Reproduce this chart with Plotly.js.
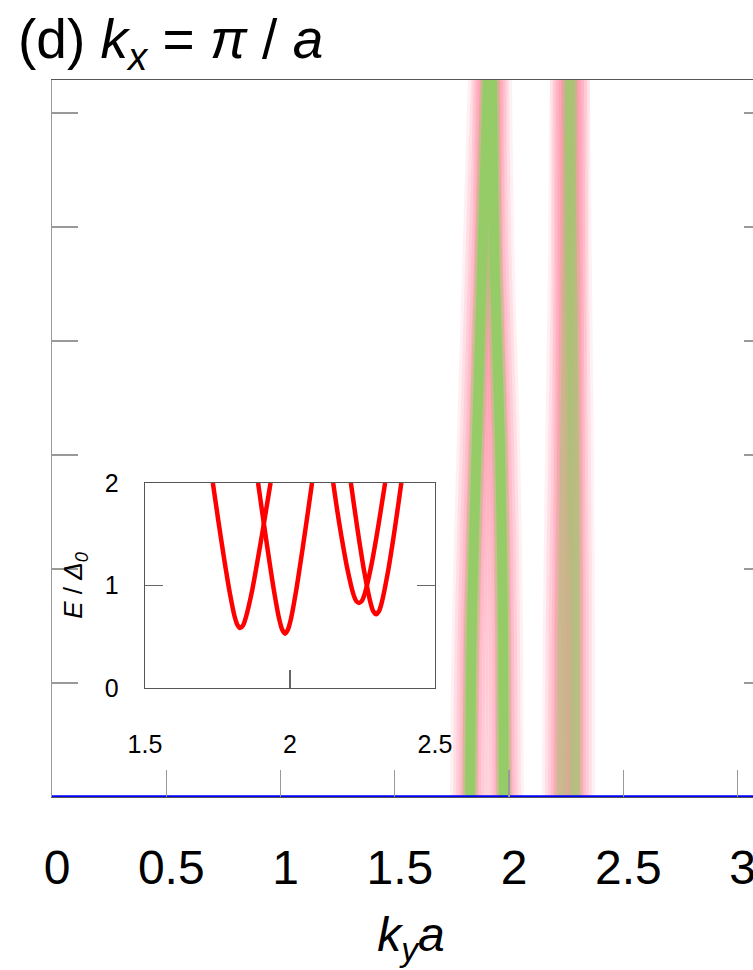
<!DOCTYPE html>
<html>
<head>
<meta charset="utf-8">
<script src="https://cdn.plot.ly/plotly-3.0.1.min.js"></script>
<style>
html,body{margin:0;padding:0;overflow:hidden;background:#fff;}
#chart{width:790px;height:970px;}
</style>
</head>
<body>
<div id="chart"></div>
<script>
// ---- main panel: broadened spectral lines (ky*a vs energy, arb. units) ----
var lineA_x = [1.829, 1.837, 1.859, 1.881, 1.907];
var lineA_y = [0, 1.51, 3.13, 4.58, 6.29];
var lineB_x = [1.977, 1.973, 1.960, 1.938, 1.925];
var lineB_y = [0, 1.51, 3.13, 4.58, 6.29];
var lineC1_x = [2.231, 2.235, 2.246, 2.257, 2.266];
var lineC1_y = [0, 1.51, 3.13, 4.58, 6.29];
var lineC2_x = [2.288, 2.288, 2.283, 2.275, 2.266];
var lineC2_y = [0, 1.51, 3.13, 4.58, 6.29];
var baseX = [0, 3.1416];
var baseY = [0, 0];

// ---- inset: E / Delta0 vs ky*a ----
var c1_k = [1.734, 1.753, 1.773, 1.793, 1.808, 1.818, 1.828, 1.838, 1.848, 1.868, 1.888, 1.908, 1.933];
var c1_E = [2.0, 1.63, 1.26, 0.92, 0.71, 0.62, 0.585, 0.61, 0.69, 0.93, 1.24, 1.57, 2.0];
var c2_k = [1.890, 1.905, 1.923, 1.943, 1.963, 1.973, 1.983, 1.993, 2.003, 2.023, 2.043, 2.061, 2.076];
var c2_E = [2.0, 1.70, 1.35, 0.98, 0.67, 0.57, 0.53, 0.57, 0.67, 0.98, 1.35, 1.70, 2.0];
var c3_k = [2.149, 2.163, 2.178, 2.198, 2.218, 2.228, 2.238, 2.248, 2.258, 2.278, 2.298, 2.313, 2.328];
var c3_E = [2.0, 1.73, 1.47, 1.16, 0.92, 0.85, 0.83, 0.85, 0.92, 1.16, 1.47, 1.73, 2.0];
var c4_k = [2.210, 2.224, 2.237, 2.257, 2.277, 2.287, 2.297, 2.307, 2.317, 2.337, 2.357, 2.370, 2.384];
var c4_E = [2.0, 1.72, 1.47, 1.12, 0.84, 0.75, 0.72, 0.75, 0.84, 1.12, 1.47, 1.72, 2.0];

var xTicks = [0, 0.5, 1, 1.5, 2, 2.5, 3];
var xTickText = ['0', '0.5', '1', '1.5', '2', '2.5', '3'];
var yTicks = [1, 2, 3, 4, 5, 6];
var insetXTicks = [1.5, 2, 2.5];
var insetXText = ['1.5', '2', '2.5'];
var insetYTicks = [0, 1, 2];

var FONT = 'Liberation Sans, Arial, Helvetica, sans-serif';
var traces = [];
var mainLines = [[lineA_x, lineA_y], [lineB_x, lineB_y], [lineC1_x, lineC1_y], [lineC2_x, lineC2_y]];
var coreAlpha = [1, 1, 0.38, 0.55];

// glow layers first
var glowWidths = [40, 34, 28, 22, 17];
var glowAlpha = [0.14, 0.18, 0.24, 0.3, 0.35];
mainLines.forEach(function (L) {
  glowWidths.forEach(function (w, j) {
    traces.push({x: L[0], y: L[1], mode: 'lines', type: 'scatter', xaxis: 'x', yaxis: 'y',
      line: {color: 'rgba(255,150,170,' + glowAlpha[j] + ')', width: w, shape: 'spline'}, hoverinfo: 'skip', showlegend: false});
  });
});
// cores
mainLines.forEach(function (L, i) {
  var a = coreAlpha[i];
  traces.push({x: L[0], y: L[1], mode: 'lines', type: 'scatter', xaxis: 'x', yaxis: 'y',
    line: {color: 'rgba(150,204,104,' + (0.45 * a) + ')', width: 15, shape: 'spline'}, hoverinfo: 'skip', showlegend: false});
  traces.push({x: L[0], y: L[1], mode: 'lines', type: 'scatter', xaxis: 'x', yaxis: 'y',
    line: {color: 'rgba(150,204,104,' + a + ')', width: 10, shape: 'spline'}, hoverinfo: 'skip', showlegend: false});
});
// blue baseline
traces.push({x: baseX, y: baseY, mode: 'lines', type: 'scatter', xaxis: 'x', yaxis: 'y', cliponaxis: false,
  line: {color: '#0000ff', width: 3.5}, showlegend: false});

// inset curves
[[c1_k, c1_E], [c2_k, c2_E], [c3_k, c3_E], [c4_k, c4_E]].forEach(function (c) {
  traces.push({x: c[0], y: c[1], mode: 'lines', type: 'scatter', xaxis: 'x2', yaxis: 'y2',
    line: {color: '#ff0000', width: 4.5, shape: 'spline', smoothing: 0.8}, showlegend: false});
});

var layout = {
  width: 790, height: 970,
  margin: {l: 52, r: 20, t: 80, b: 173},
  paper_bgcolor: '#ffffff', plot_bgcolor: '#ffffff',
  showlegend: false,
  font: {family: FONT, color: '#000'},
  annotations: [{
    text: '(d) <i>k</i><sub><i>x</i></sub> = <i>π</i> / <i>a</i>',
    font: {family: FONT, size: 55, color: '#000'},
    xref: 'paper', x: (16 - 52) / 718, xanchor: 'left',
    yref: 'paper', y: (797 - 6) / 717, yanchor: 'top',
    showarrow: false
  }],
  xaxis: {
    domain: [0, 1], range: [0, 3.1416], showgrid: false, zeroline: false,
    showline: true, mirror: true, linecolor: '#555', linewidth: 1.2,
    ticks: 'inside', ticklen: 27, tickwidth: 1.2, tickcolor: '#999',
    tickvals: xTicks, ticktext: xTickText,
    tickfont: {family: FONT, size: 48, color: '#000'}, ticklabelstandoff: 28, ticklabelshift: 5,
    title: {text: '<i>k<sub>y</sub>a</i>', font: {family: FONT, size: 48, color: '#000'}, standoff: 24}
  },
  yaxis: {
    domain: [0, 1], range: [0, 6.29], showgrid: false, zeroline: false,
    showline: true, mirror: 'ticks', linecolor: '#999', linewidth: 1.2,
    ticks: 'inside', ticklen: 26, tickwidth: 1.2, tickcolor: '#999',
    tickvals: yTicks, showticklabels: false
  },
  xaxis2: {
    domain: [0.1295, 0.5334], range: [1.5, 2.5], anchor: 'y2', showgrid: false, zeroline: false,
    showline: true, mirror: true, linecolor: '#555', linewidth: 1.2,
    ticks: 'inside', ticklen: 18, tickwidth: 1.2, tickcolor: '#666',
    tickvals: insetXTicks, ticktext: insetXText,
    tickfont: {family: FONT, size: 25, color: '#000'}, ticklabelstandoff: 34
  },
  yaxis2: {
    domain: [0.152, 0.438], range: [0, 2], anchor: 'x2', showgrid: false, zeroline: false,
    showline: true, mirror: 'ticks', linecolor: '#555', linewidth: 1.2,
    ticks: 'inside', ticklen: 18, tickwidth: 1.2, tickcolor: '#666',
    tickvals: insetYTicks,
    tickfont: {family: FONT, size: 25, color: '#000'}, ticklabelstandoff: 20,
    title: {text: '<i>E</i> / <i>Δ</i><sub><i>0</i></sub>', font: {family: FONT, size: 26, color: '#000'}, standoff: 14}
  }
};

Plotly.newPlot('chart', traces, layout, {displayModeBar: false, staticPlot: true});
</script>
</body>
</html>
